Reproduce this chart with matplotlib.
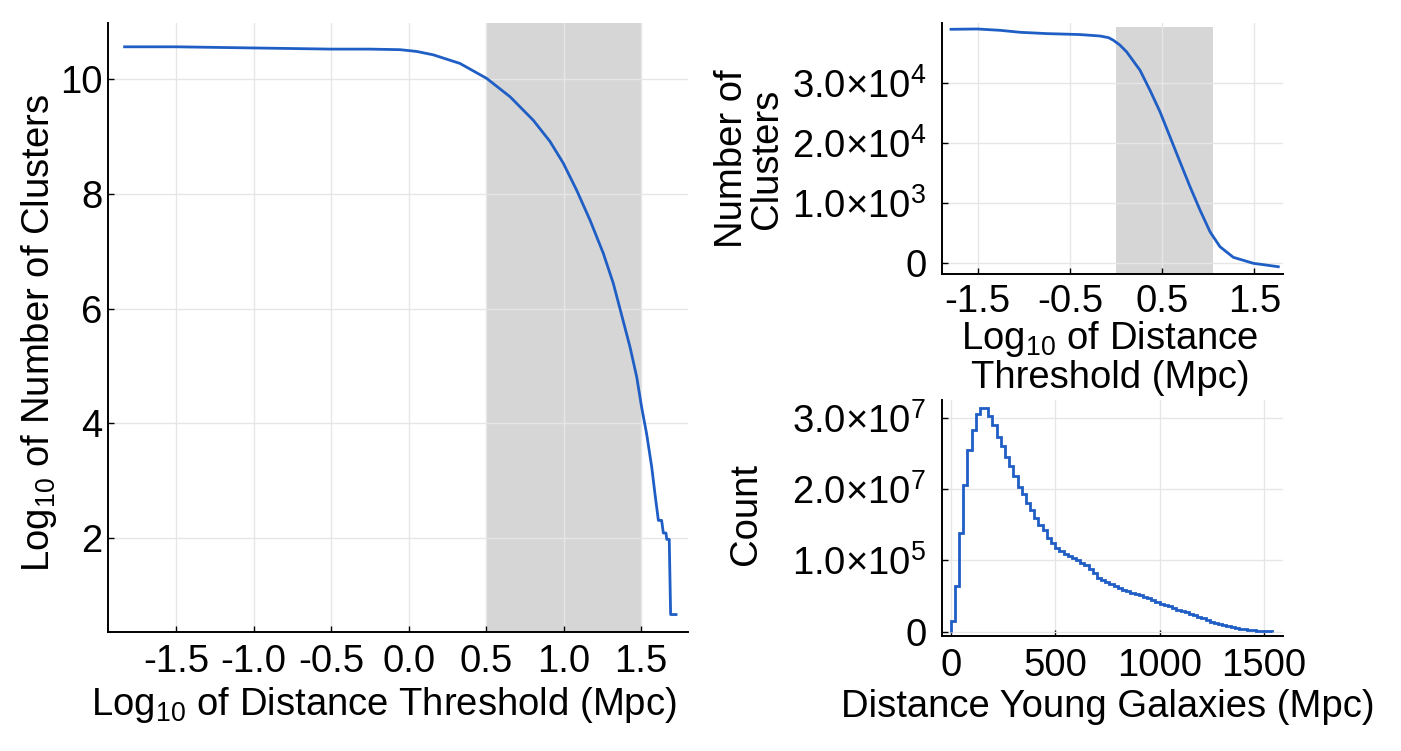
import numpy as np
import matplotlib
matplotlib.use("Agg")
import matplotlib.pyplot as plt

plt.rcParams['font.family'] = ['Liberation Sans', 'DejaVu Sans']
plt.rcParams['mathtext.fontset'] = 'custom'
plt.rcParams['mathtext.rm'] = 'Liberation Sans'
plt.rcParams['mathtext.it'] = 'Liberation Sans'
plt.rcParams['mathtext.bf'] = 'Liberation Sans'

# ---------------- data ----------------
# Left: log10 number of clusters vs log10 distance threshold
left_x = [-1.833, -1.5, -1.0, -0.5, -0.25, -0.056, 0.05, 0.159, 0.331, 0.503, 0.654, 0.804,
          0.912, 0.998, 1.084, 1.170, 1.256, 1.320, 1.363, 1.428, 1.471, 1.503,
          1.535, 1.568, 1.589, 1.611, 1.632, 1.643, 1.660, 1.665, 1.681, 1.690, 1.725]
left_y = [10.56, 10.56, 10.54, 10.52, 10.52, 10.51, 10.48, 10.42, 10.27, 10.01, 9.69, 9.28,
          8.91, 8.53, 8.06, 7.54, 6.96, 6.44, 6.00, 5.33, 4.81, 4.28,
          3.82, 3.24, 2.77, 2.31, 2.31, 2.09, 2.09, 1.98, 1.98, 0.67, 0.67]
left_shade = [0.5, 1.5]
left_xticks = [-1.5, -1.0, -0.5, 0.0, 0.5, 1.0, 1.5]
left_xticklabels = ['-1.5', '-1.0', '-0.5', '0.0', '0.5', '1.0', '1.5']
left_yticks = [2, 4, 6, 8, 10]
left_yticklabels = ['2', '4', '6', '8', '10']

# Top right: number of clusters vs log10 distance threshold
tr_x = [-1.787, -1.502, -1.256, -1.04, -0.75, -0.495, -0.390, -0.173, -0.08, -0.029, 0.04,
        0.116, 0.260, 0.368, 0.477, 0.585, 0.693, 0.802, 0.910, 1.018, 1.126, 1.271,
        1.487, 1.758]
tr_y = [38950, 39000, 38780, 38450, 38230, 38120, 38070, 37830, 37550, 37120, 36350,
        35170, 32120, 28780, 25170, 21000, 16830, 12670, 8780, 5170, 2670, 900,
        -100, -670]
tr_shade_x = [0.0, 1.05]
tr_shade_top = 39250
tr_xticks = [-1.5, -0.5, 0.5, 1.5]
tr_xticklabels = ['-1.5', '-0.5', '0.5', '1.5']
tr_yticks = [0, 10000, 20000, 30000]
tr_yticklabels = ['0', r'1.0×10$^{3}$', r'2.0×10$^{4}$', r'3.0×10$^{4}$']

# Bottom right: histogram of distances of young galaxies (counts in units of 1e7)
hist_edges = list(range(0, 1541, 20))
hist_counts_e7 = [0.154, 0.64, 1.38, 2.06, 2.55, 2.83, 3.05, 3.14, 3.14, 3.03,
                  2.90, 2.73, 2.61, 2.45, 2.33, 2.19, 2.03, 1.93, 1.81, 1.71,
                  1.60, 1.50, 1.42, 1.32, 1.24, 1.18, 1.13, 1.09, 1.06, 1.03,
                  1.00, 0.97, 0.93, 0.88, 0.82, 0.76, 0.73, 0.70, 0.67, 0.645,
                  0.62, 0.59, 0.57, 0.55, 0.53, 0.51, 0.49, 0.47, 0.44, 0.42,
                  0.39, 0.37, 0.355, 0.33, 0.31, 0.295, 0.275, 0.25, 0.23, 0.205,
                  0.187, 0.164, 0.14, 0.12, 0.107, 0.094, 0.075, 0.06, 0.05, 0.042,
                  0.037, 0.028, 0.019, 0.014, 0.014, 0.009, 0.009]
br_xticks = [0, 500, 1000, 1500]
br_xticklabels = ['0', '500', '1000', '1500']
br_yticks = [0, 1e7, 2e7, 3e7]
br_yticklabels = ['0', r'1.0×10$^{5}$', r'2.0×10$^{7}$', r'3.0×10$^{7}$']

# ---------------- style ----------------
LINE = '#1f5ec4'
SHADE = '#d6d6d6'
GRID = '#e6e6e6'
FS = 27.5
LW = 2.0

W, H = 1401, 751
fig = plt.figure(figsize=(W / 100, H / 100), dpi=100)


def make_axes(x0, y0, x1, y1):
    return fig.add_axes([x0 / W, 1 - y1 / H, (x1 - x0) / W, (y1 - y0) / H])


def style(ax, ypad, xpad=9):
    for s in ['top', 'right']:
        ax.spines[s].set_visible(False)
    for s in ['left', 'bottom']:
        ax.spines[s].set_linewidth(1.4)
    ax.set_axisbelow(True)
    ax.grid(True, color=GRID, linewidth=1.0, zorder=0.5)
    ax.tick_params(axis='both', direction='in', length=4, width=1.0, labelsize=FS)
    ax.tick_params(axis='x', pad=xpad)
    ax.tick_params(axis='y', pad=ypad)


# Left panel
ax1 = make_axes(108.3, 22.7, 688.3, 631.7)
style(ax1, 4)
ax1.axvspan(left_shade[0], left_shade[1], color=SHADE, lw=0, zorder=0.3)
ax1.plot(left_x, left_y, color=LINE, lw=LW, zorder=3, solid_joinstyle='round')
ax1.set_xlim(-1.938, 1.804)
ax1.set_ylim(0.371, 10.98)
ax1.set_xticks(left_xticks)
ax1.set_xticklabels(left_xticklabels)
ax1.set_yticks(left_yticks)
ax1.set_yticklabels(left_yticklabels)
ax1.set_xlabel(r'Log$_{10}$ of Distance Threshold (Mpc)', fontsize=FS, va='top')
ax1.xaxis.set_label_coords(0.475, -0.088)
ax1.set_ylabel(r'Log$_{10}$ of Number of Clusters', fontsize=FS)
ax1.yaxis.set_label_coords(-0.085, 0.49)

# Top right panel
ax2 = make_axes(941.7, 22.7, 1283.3, 274)
style(ax2, 11, xpad=7)
ylo2, yhi2 = -1883, 40050
ax2.fill_between(tr_shade_x, ylo2, tr_shade_top, color=SHADE, lw=0, zorder=0.3)
ax2.plot(tr_x, tr_y, color=LINE, lw=LW, zorder=3, solid_joinstyle='round')
ax2.set_xlim(-1.888, 1.812)
ax2.set_ylim(ylo2, yhi2)
ax2.set_xticks(tr_xticks)
ax2.set_xticklabels(tr_xticklabels)
ax2.set_yticks(tr_yticks)
ax2.set_yticklabels(tr_yticklabels)
ax2.set_xlabel('Log$_{10}$ of Distance\nThreshold (Mpc)', fontsize=FS, va='top',
               linespacing=1.05)
ax2.xaxis.set_label_coords(0.493, -0.178)
ax2.set_ylabel('Number of\nClusters', fontsize=FS, linespacing=0.95)
ax2.yaxis.set_label_coords(-0.46, 0.46)

# Bottom right panel
ax3 = make_axes(941.7, 400, 1283.3, 636)
style(ax3, 11)
counts = np.array(hist_counts_e7) * 1e7
ax3.stairs(counts, hist_edges, color=LINE, lw=LW, baseline=0, zorder=3)
ax3.set_xlim(-43, 1592)
ax3.set_ylim(-0.06e7, 3.25e7)
ax3.set_xticks(br_xticks)
ax3.set_xticklabels(br_xticklabels)
ax3.set_yticks(br_yticks)
ax3.set_yticklabels(br_yticklabels)
ax3.set_xlabel('Distance Young Galaxies (Mpc)', fontsize=FS, va='top')
ax3.xaxis.set_label_coords(0.487, -0.225)
ax3.set_ylabel('Count', fontsize=FS)
ax3.yaxis.set_label_coords(-0.52, 0.517)

fig.savefig('out.png', dpi=100)
